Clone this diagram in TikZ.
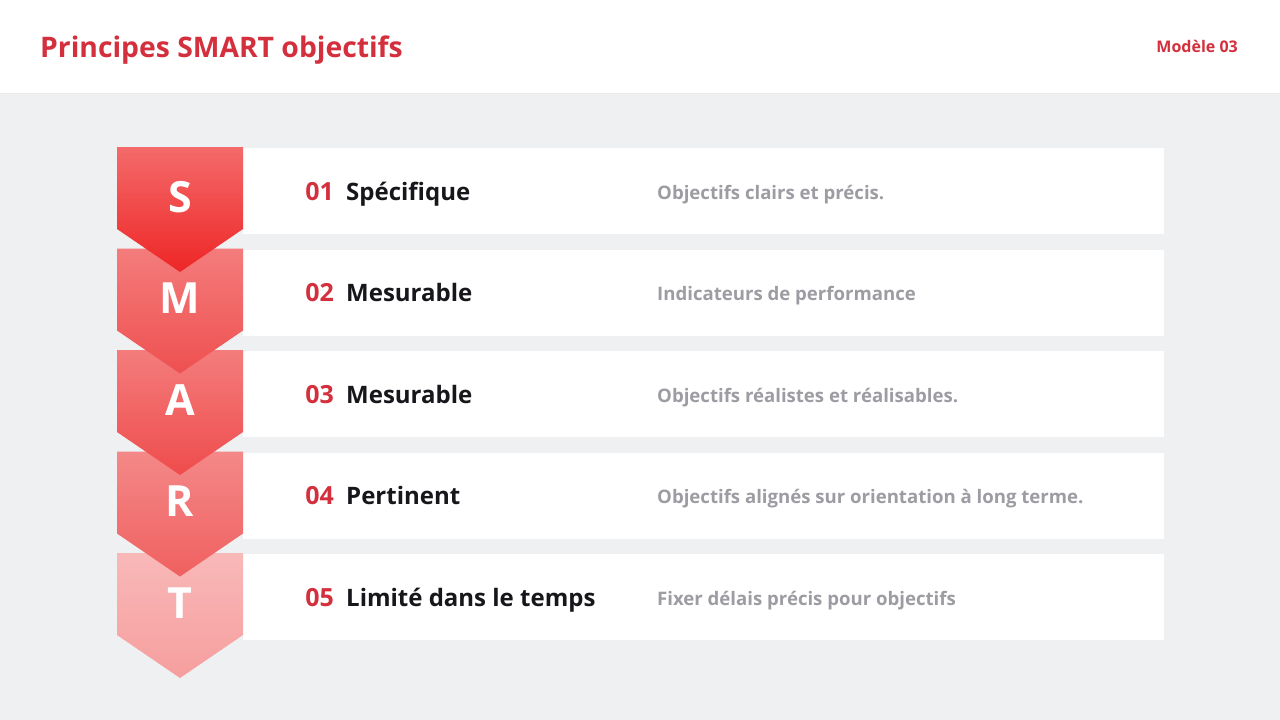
\documentclass[tikz,border=0pt]{standalone}
\usepackage{fontspec}
\setmainfont{Open Sans}
\usetikzlibrary{positioning}
\definecolor{smartred}{HTML}{D42F3C}
\definecolor{pagegray}{HTML}{EEF0F2}
\definecolor{descgray}{HTML}{9C9CA2}
\definecolor{labelblack}{HTML}{16161B}
\tikzstyle{rowbar} = [fill=white, minimum width=921pt, minimum height=86pt, inner sep=0pt, anchor=north west]
\tikzstyle{num} = [text=smartred, font=\fontsize{25}{25}\selectfont\bfseries, inner sep=0pt, anchor=base east]
\tikzstyle{lbl} = [text=labelblack, font=\fontsize{24}{24}\selectfont\bfseries, inner sep=0pt]
\tikzstyle{desc} = [text=descgray, font=\fontsize{18.6}{18.6}\selectfont\bfseries, inner sep=0pt, anchor=base west]
\tikzstyle{letter} = [text=white, font=\fontsize{43}{43}\selectfont\bfseries, inner sep=0pt, anchor=base]
\tikzstyle{title} = [text=smartred, font=\fontsize{28.3}{28.3}\selectfont\bfseries, inner sep=0pt]

\begin{document}
\begin{tikzpicture}[x=1pt,y=-1pt]
\useasboundingbox (0,0) rectangle (1280,720);

% Canvas
\fill[pagegray] (0,0) rectangle (1280,720);
\fill[white] (0,0) rectangle (1280,93);
\draw[black!8] (0,93.5) -- (1280,93.5);

% Header
\node[title, anchor=base west] (title) at (40,57) {Principes SMART objectifs};
\node[title, anchor=base east, font=\fontsize{16}{16}\selectfont\bfseries] (model) at (1238,52) {Modèle 03};

% Rows
\foreach \i/\nr/\name/\txt in {1/01/Spécifique/Objectifs clairs et précis.,
    2/02/Mesurable/Indicateurs de performance,
    3/03/Mesurable/Objectifs réalistes et réalisables.,
    4/04/Pertinent/Objectifs alignés sur orientation à long terme.,
    5/05/Limité dans le temps/Fixer délais précis pour objectifs}{
  \node[rowbar] (row\i) at (243,{148+101.5*(\i-1)}) {};
  \node[num] (num\i) at (334,{200+101.5*(\i-1)}) {\nr};
  \node[lbl, right=12pt of num\i.base east, anchor=base west] (lbl\i) {\name};
  \node[desc] (desc\i) at (657,{199+101.5*(\i-1)}) {\txt};
}

% Arrows (bottom one first, so each point lies over the next)
\foreach \i/\ltr/\ctop/\cbot in {5/T/F9B8B8/F69E9E, 4/R/F48888/F06060,
    3/A/F47C7C/EF4C4C, 2/M/F47C7C/EF5050, 1/S/F46A6A/EE2626}{
  \definecolor{toptint}{HTML}{\ctop}
  \definecolor{bottint}{HTML}{\cbot}
  \pgfmathsetmacro{\t}{147+101.5*(\i-1)}
  \shade[top color=toptint, bottom color=bottint]
    (117,\t) -- (243,\t) -- (243,\t+82) -- (180,\t+125) -- (117,\t+82) -- cycle;
  \node[letter] (ltr\i) at (180,\t+65) {\ltr};
}
\end{tikzpicture}
\end{document}
